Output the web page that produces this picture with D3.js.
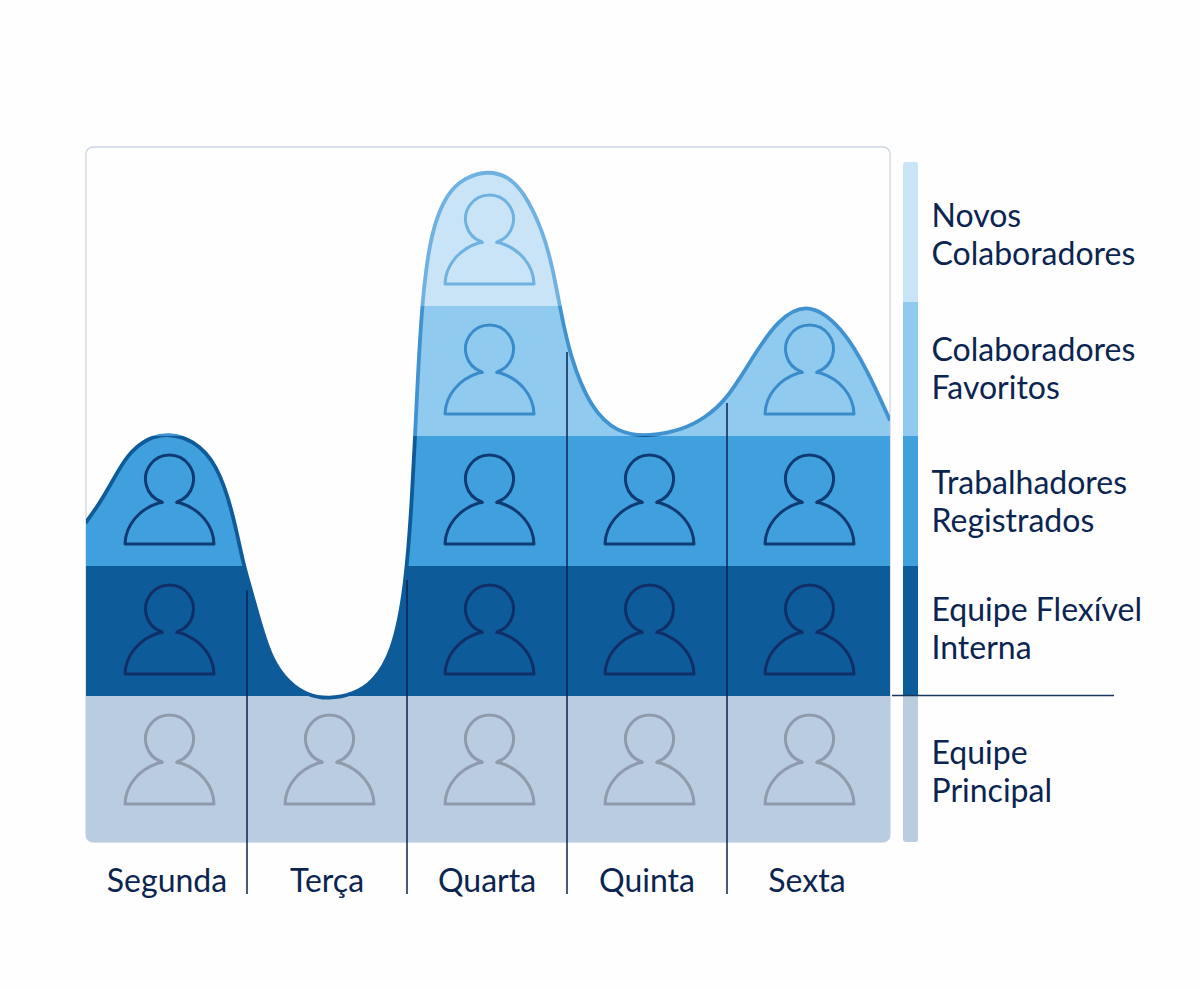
<!DOCTYPE html>
<html><head><meta charset="utf-8">
<script src="https://cdn.jsdelivr.net/npm/d3@7"></script>
<style>html,body{margin:0;padding:0;background:#fefefe}svg{display:block}text{font-family:Lato,sans-serif;fill:#0b2550}</style>
</head><body><svg id="c" width="1200" height="989"></svg>
<script>
const days = ["Segunda","Terça","Quarta","Quinta","Sexta"];
const tiers = ["Equipe Principal","Equipe Flexível Interna","Trabalhadores Registrados","Colaboradores Favoritos","Novos Colaboradores"];
const legendLines = [["Equipe","Principal"],["Equipe Flexível","Interna"],["Trabalhadores","Registrados"],["Colaboradores","Favoritos"],["Novos","Colaboradores"]];
// number of tiers above the core team staffed per day
const staffedTiers = [2,0,4,2,3];
// demand curve: position in day units, level in tier units
const curveDay = [-.01,.081,.1625,.25,.375,.5125,.6625,.8125,.9125,.975,1.025,1.09,1.155,1.26,1.3725,1.5125,1.666,1.785,1.91,1.99,2.032,2.063,2.094,2.15,2.25,2.3625,2.506,2.625,2.725,2.85,2.9125,2.956,3.019,3.144,3.3125,3.519,3.725,3.8625,4.0,4.1625,4.3125,4.506,4.725,4.875,5.019];
const curveLevel = [1.33,1.485,1.66,1.854,1.985,2.02,1.97,1.79,1.41,1.02,.815,.523,.277,.10,.008,-.025,.015,.10,.33,.815,1.51,2.35,3.05,3.58,3.87,3.99,4.04,4.0,3.89,3.58,3.28,2.99,2.61,2.22,2.02,1.995,2.05,2.14,2.28,2.61,2.89,3.04,2.83,2.51,2.12];
const tierFill = ["#bacce0","#0e5b9a","#40a0dd","#90cbef","#c9e4f7"];
const tierIcon = ["#8f9bab","#0f2f66","#0f3a73","#3a8bc9","#6fb1e0"];
const tierStroke = [null,"#0f5a99","#0f5a99","#4092d0","#6fb1e0"];

const svg = d3.select("#c");
const defs = svg.append("defs");
const box = {l:86,r:890,t:147,b:842};
const xBand = d3.scaleBand().domain(days).range([87,887]);
const xPos = d3.scaleLinear().domain([0,5]).range([87,887]);
const y = d3.scaleLinear().domain([0,4]).range([696,176]);
const bandTop = i => i===4 ? box.t : y(i);
const bandBot = i => i===0 ? box.b : y(i-1);
const pts = curveDay.map((d,i)=>[d,curveLevel[i]]);
const topLine = d3.line().x(d=>xPos(d[0])).y(d=>y(d[1])).curve(d3.curveBasis);
const area = d3.area().x(d=>xPos(d[0])).y0(box.b).y1(d=>y(d[1])).curve(d3.curveBasis);

defs.append("clipPath").attr("id","plot").append("rect")
  .attr("x",box.l).attr("y",box.t).attr("width",box.r-box.l).attr("height",box.b-box.t).attr("rx",7);
defs.append("clipPath").attr("id","under").append("path").attr("d",area(pts));

svg.append("rect").attr("x",box.l).attr("y",box.t).attr("width",box.r-box.l).attr("height",box.b-box.t)
  .attr("rx",7).attr("fill","#fefefe").attr("stroke","#ccd5e5").attr("stroke-width",1.3);

const plot = svg.append("g").attr("clip-path","url(#plot)");
plot.append("rect").attr("x",box.l).attr("width",box.r-box.l).attr("y",y(0)).attr("height",box.b-y(0)).attr("fill",tierFill[0]);
const upper = plot.append("g").attr("clip-path","url(#under)");
[1,2,3,4].forEach(i=>{
  upper.append("rect").attr("x",box.l).attr("width",box.r-box.l)
    .attr("y",bandTop(i)).attr("height",bandBot(i)-bandTop(i)).attr("fill",tierFill[i]);
});
[1,2,3,4].forEach(i=>{
  const id="s"+i;
  defs.append("clipPath").attr("id",id).append("rect").attr("x",box.l).attr("width",box.r-box.l)
    .attr("y",bandTop(i)).attr("height",bandBot(i)-bandTop(i)+(i===1?8:0));
  plot.append("g").attr("clip-path",`url(#${id})`).append("path").attr("d",topLine(pts))
    .attr("fill","none").attr("stroke",tierStroke[i]).attr("stroke-width",3.8);
});

// person icons
const icon = "M-44.5 0L44.5 0C44 -19 30 -35 11 -41C7 -42 6 -41 8.5 -42.5A24 24 0 1 0 -8.5 -42.5C-6 -41 -7 -42 -11 -41C-30 -35 -44 -19 -44.5 0Z";
const iconBase = i => i===0 ? y(0)+108 : y(i-1)-22;
days.forEach((d,k)=>{
  d3.range(0,staffedTiers[k]+1).forEach(i=>{
    svg.append("path").attr("d",icon)
      .attr("transform",`translate(${xBand(d)+xBand.bandwidth()/2+2.5},${iconBase(i)})`)
      .attr("fill","none").attr("stroke",tierIcon[i]).attr("stroke-width",3).attr("stroke-linejoin","round");
  });
});

// day dividers start where the outline meets them
const dividerTop = [590,580,352,403];
days.slice(1).forEach((d,k)=>{
  svg.append("line").attr("x1",xBand(d)).attr("x2",xBand(d)).attr("y1",dividerTop[k]).attr("y2",894)
    .attr("stroke","#0b2550").attr("stroke-width",1.5);
});

svg.append("g").selectAll("text").data(days).join("text")
  .attr("x",d=>xBand(d)+xBand.bandwidth()/2).attr("y",892).attr("text-anchor","middle")
  .attr("font-size",32).text(d=>d);

// legend bar
const bar = {x:903,w:15,t:162};
defs.append("clipPath").attr("id","bar").append("rect").attr("x",bar.x).attr("y",bar.t).attr("width",bar.w).attr("height",box.b-bar.t).attr("rx",3);
const barG = svg.append("g").attr("clip-path","url(#bar)");
tiers.forEach((t,i)=>{
  const top = i===4 ? bar.t : (i===3 ? 302 : y(i));
  const bot = i===0 ? box.b : (i===4 ? 302 : y(i-1));
  barG.append("rect").attr("x",bar.x).attr("width",bar.w).attr("y",top).attr("height",bot-top).attr("fill",tierFill[i]);
});
svg.append("line").attr("x1",892).attr("x2",1114).attr("y1",695.5).attr("y2",695.5).attr("stroke","#17375f").attr("stroke-width",1.5);

const legendY = [764,621,494,361,227];
legendLines.forEach((ls,i)=>{
  ls.forEach((s,j)=>{
    svg.append("text").attr("x",931.5).attr("y",legendY[i]+j*38).attr("font-size",32).text(s);
  });
});
</script></body></html>
